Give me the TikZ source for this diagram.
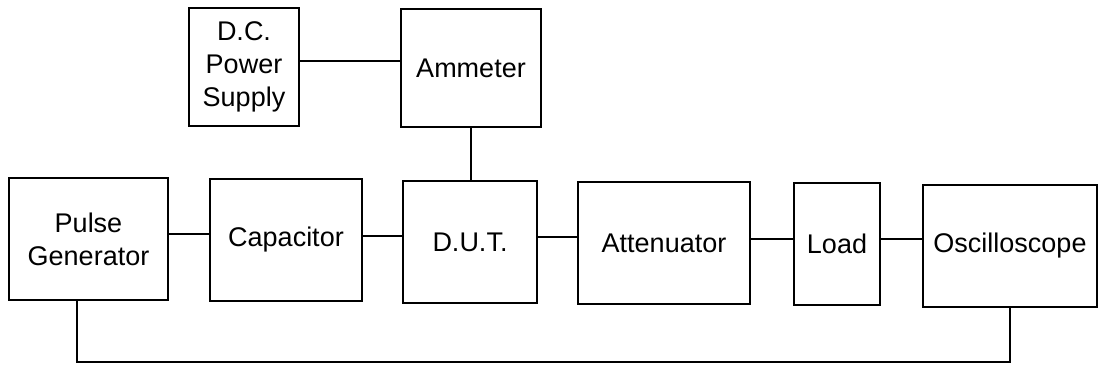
\documentclass[tikz,border=0pt]{standalone}
\usepackage{fontspec}
\setmainfont{Liberation Sans}
\begin{document}
\begin{tikzpicture}[x=1pt,y=-1pt,
  blk/.style={draw, line width=2pt, rectangle, inner sep=0pt, align=center,
    font=\fontsize{27}{33}\selectfont},
  wire/.style={line width=2pt}]
\useasboundingbox (0,0) rectangle (1100,369);
\node[blk, minimum width=110, minimum height=118] (dc) at (244,67) {D.C.\\Power\\Supply};
\node[blk, minimum width=140, minimum height=118] (amm) at (471,68) {Ammeter};
\node[blk, minimum width=159, minimum height=122] (pg) at (88.5,239) {Pulse\\Generator};
\node[blk, minimum width=152, minimum height=122] (cap) at (286,240) {Capacitor};
\node[blk, minimum width=134, minimum height=122] (dut) at (470,242) {D.U.T.};
\node[blk, minimum width=172, minimum height=122] (att) at (664,243) {Attenuator};
\node[blk, minimum width=86, minimum height=122] (load) at (837,244) {Load};
\node[blk, minimum width=174, minimum height=122] (osc) at (1010,246) {Oscilloscope};
\coordinate (b1) at (77,362);
\draw[wire] ([yshift=6]dc.east) -- ([yshift=6]dc.east -| amm.west);
\draw[wire] (amm.south) -- (amm.south |- dut.north);
\draw[wire] ([yshift=5]pg.east) -- ([yshift=5]pg.east -| cap.west);
\draw[wire] ([yshift=4]cap.east) -- ([yshift=4]cap.east -| dut.west);
\draw[wire] ([yshift=5]dut.east) -- ([yshift=5]dut.east -| att.west);
\draw[wire] ([yshift=4]att.east) -- ([yshift=4]att.east -| load.west);
\draw[wire] ([yshift=5]load.east) -- ([yshift=5]load.east -| osc.west);
\draw[wire] (pg.south -| b1) -- (b1) -- (b1 -| osc.south) -- (osc.south);
\end{tikzpicture}
\end{document}
